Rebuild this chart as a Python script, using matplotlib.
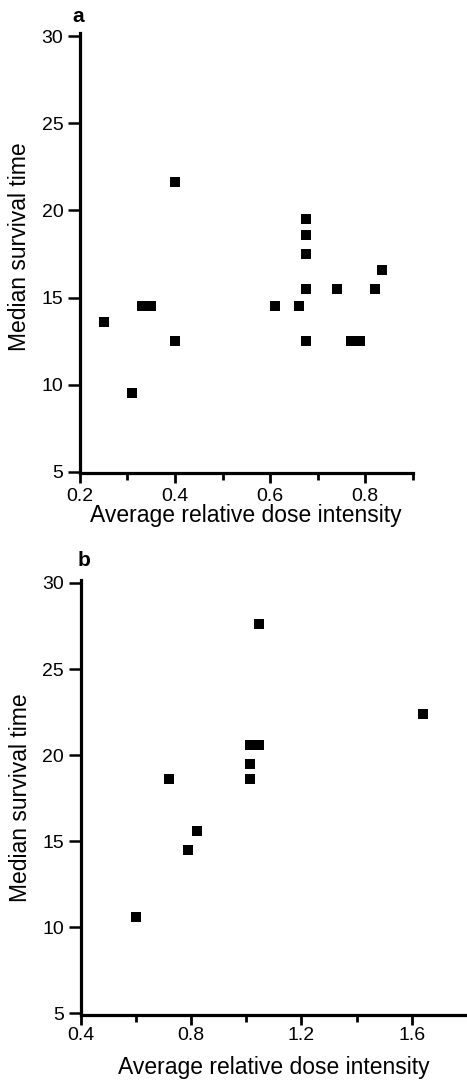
"""Median survival time vs average relative dose intensity, two stacked panels (a, b)."""
import numpy as np
import matplotlib
matplotlib.use("Agg")
import matplotlib.pyplot as plt
from matplotlib.ticker import MultipleLocator, FixedLocator, FormatStrFormatter

plt.rcParams["font.family"] = ["Liberation Sans", "DejaVu Sans"]

# panel a
a_dose = [0.25, 0.31, 0.33, 0.35, 0.40, 0.40, 0.61, 0.66, 0.675, 0.675, 0.675, 0.675, 0.675,
          0.74, 0.77, 0.79, 0.82, 0.835]
a_surv = [13.6, 9.5, 14.5, 14.5, 21.6, 12.5, 14.5, 14.5, 19.5, 18.6, 17.5, 15.5, 12.5,
          15.5, 12.5, 12.5, 15.5, 16.6]
# panel b
b_dose = [0.60, 0.72, 0.79, 0.82, 1.015, 1.045, 1.015, 1.015, 1.045, 1.64]
b_surv = [10.6, 18.6, 14.5, 15.6, 20.6, 20.6, 19.5, 18.6, 27.6, 22.4]

XLABEL = "Average relative dose intensity"
YLABEL = "Median survival time"
W, H = 467, 1082

fig = plt.figure(figsize=(W / 100, H / 100), dpi=100)


def px_axes(left, top, right, bottom):
    return fig.add_axes([left / W, 1 - bottom / H, (right - left) / W, (bottom - top) / H])


def style(ax, xlim, ylim, xmaj, xmin, xpad, lpad, ylab_xy):
    ax.set_xlim(*xlim); ax.set_ylim(*ylim)
    for s in ("top", "right"):
        ax.spines[s].set_visible(False)
    for s in ("left", "bottom"):
        ax.spines[s].set_linewidth(2.3)
    ax.set_xticks(xmaj)
    ax.xaxis.set_minor_locator(FixedLocator(xmin))
    ax.xaxis.set_major_formatter(FormatStrFormatter("%.1f"))
    ax.yaxis.set_major_locator(MultipleLocator(5))
    ax.tick_params(axis="y", direction="out", length=9, width=1.8, pad=3.0, labelsize=14)
    ax.tick_params(axis="x", which="major", direction="out", length=7, width=2.0, pad=xpad, labelsize=14)
    ax.tick_params(axis="x", which="minor", direction="out", length=5, width=2.0)
    ax.set_xlabel(XLABEL, fontsize=16.5, labelpad=lpad)
    ax.set_ylabel(YLABEL, fontsize=16.5)
    ax.yaxis.set_label_coords(*ylab_xy)


ax_a = px_axes(80, 33.4, 412.5, 473)
ax_a.scatter(a_dose, a_surv, marker="s", s=46, color="black", linewidths=0, clip_on=False, zorder=3)
style(ax_a, (0.2, 0.9), (4.94, 30.15), [0.2, 0.4, 0.6, 0.8], [0.3, 0.5, 0.7, 0.9],
      4.0, -1.0, (-0.146, 0.515))

ax_b = px_axes(80.7, 580.4, 467, 1015)
ax_b.scatter(b_dose, b_surv, marker="s", s=46, color="black", linewidths=0, clip_on=False, zorder=3)
style(ax_b, (0.4, 1.8), (4.9, 30.15), [0.4, 0.8, 1.2, 1.6], [0.6, 1.0, 1.4],
      1.5, 9.0, (-0.127, 0.5))

fig.text(78 / W, 1 - 16 / H, "a", ha="center", va="center", fontsize=15, fontweight="bold")
fig.text(84 / W, 1 - 560 / H, "b", ha="center", va="center", fontsize=15, fontweight="bold")

fig.savefig("out.png", dpi=100, facecolor="white")
